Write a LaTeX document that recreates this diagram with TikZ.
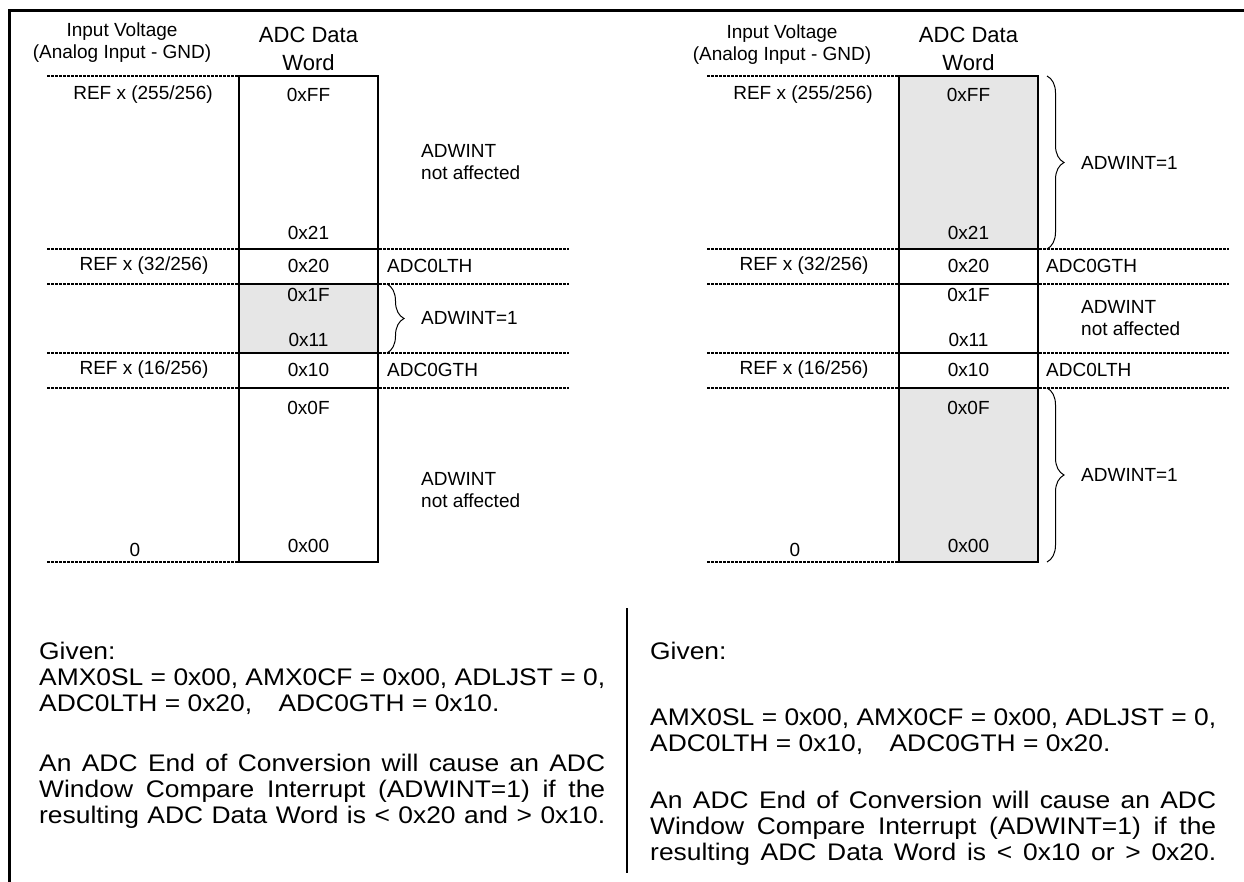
\documentclass[tikz,border=0pt]{standalone}
\usepackage{fontspec}
\setmainfont{Liberation Sans}
\newfontfamily\notefont{Liberation Sans}[FakeStretch=1.1]
\usetikzlibrary{decorations.pathreplacing}
\definecolor{hitgray}{HTML}{E6E6E6}

\begin{document}
\begin{tikzpicture}[
  x=1pt, y=-1pt,
  lbl/.style={font=\fontsize{19}{22}\selectfont, inner sep=0pt, align=center},
  head/.style={lbl, font=\fontsize{22}{28}\selectfont},
  tag/.style={lbl, anchor=west, align=left},
  cell/.style={draw=black, line width=1.6pt},
  hit/.style={fill=hitgray},
  grid/.style={line width=1.4pt, dash pattern=on 3pt off 1pt},
  brc/.style={line width=1pt, decorate, decoration={brace, amplitude=17pt}},
  frame/.style={line width=3pt},
  note/.style={font=\notefont\fontsize{24}{26}\selectfont, inner sep=0pt, anchor=base west},
  full/.style={note, text width=566pt, align=justify,
               execute at begin node={\parfillskip=0pt\relax}}
]
\useasboundingbox (0,0) rectangle (1244,882);

% outer frame and column divider
\draw[frame] (9.5,882) -- (9.5,11) -- (1244,11);
\draw[frame, line width=2pt] (627,608) -- (627,873);

% ---- left: window inside the limits ----
\begin{scope}
  \fill[hit] (239,284) rectangle (378,353);
  \draw[grid] (47,76) -- (239,76);
  \draw[grid] (47,249) -- (569,249);
  \draw[grid] (47,284) -- (569,284);
  \draw[grid] (47,353) -- (569,353);
  \draw[grid] (47,388) -- (569,388);
  \draw[grid] (47,562) -- (239,562);
  \draw[cell] (239,76) rectangle (378,562);
  \draw[cell] (239,249) -- (378,249);
  \draw[cell] (239,284) -- (378,284);
  \draw[cell] (239,353) -- (378,353);
  \draw[cell] (239,388) -- (378,388);
  \draw[brc] (387,284) -- (387,353);

  \node[lbl] (lvin) at (122,43) {Input Voltage\\(Analog Input - GND)};
  \node[head] (lword) at (308.5,49) {ADC Data\\Word};
  \node[lbl] (lref255) at (143,95) {REF x (255/256)};
  \node[lbl] (lff) at (308.5,95) {0xFF};
  \node[lbl] (l21) at (308.5,233) {0x21};
  \node[tag] (lna1) at (421,162) {ADWINT\\not affected};
  \node[lbl] (lref32) at (144,266) {REF x (32/256)};
  \node[lbl] (l20) at (308.5,266) {0x20};
  \node[tag] (llth) at (387,266) {ADC0LTH};
  \node[lbl] (l1f) at (308.5,295) {0x1F};
  \node[lbl] (l11) at (308.5,340) {0x11};
  \node[tag] (lint) at (421,318) {ADWINT=1};
  \node[lbl] (lref16) at (144,370) {REF x (16/256)};
  \node[lbl] (l10) at (308.5,370) {0x10};
  \node[tag] (lgth) at (387,370) {ADC0GTH};
  \node[lbl] (l0f) at (308.5,408) {0x0F};
  \node[tag] (lna2) at (421,490) {ADWINT\\not affected};
  \node[lbl] (lzero) at (135,550) {0};
  \node[lbl] (l00) at (308.5,546) {0x00};
\end{scope}

% ---- right: window outside the limits ----
\begin{scope}[xshift=660pt]
  \fill[hit] (239,76) rectangle (378,249);
  \fill[hit] (239,388) rectangle (378,562);
  \draw[grid] (47,76) -- (239,76);
  \draw[grid] (47,249) -- (569,249);
  \draw[grid] (47,284) -- (569,284);
  \draw[grid] (47,353) -- (569,353);
  \draw[grid] (47,388) -- (569,388);
  \draw[grid] (47,562) -- (239,562);
  \draw[cell] (239,76) rectangle (378,562);
  \draw[cell] (239,249) -- (378,249);
  \draw[cell] (239,284) -- (378,284);
  \draw[cell] (239,353) -- (378,353);
  \draw[cell] (239,388) -- (378,388);
  \draw[brc] (387,76) -- (387,249);
  \draw[brc] (387,388) -- (387,562);

  \node[lbl] (rvin) at (122,45) {Input Voltage\\(Analog Input - GND)};
  \node[head] (rword) at (308.5,49) {ADC Data\\Word};
  \node[lbl] (rref255) at (143,95) {REF x (255/256)};
  \node[lbl] (rff) at (308.5,95) {0xFF};
  \node[tag] (rint1) at (421,163) {ADWINT=1};
  \node[lbl] (r21) at (308.5,233) {0x21};
  \node[lbl] (rref32) at (144,266) {REF x (32/256)};
  \node[lbl] (r20) at (308.5,266) {0x20};
  \node[tag] (rgth) at (386,266) {ADC0GTH};
  \node[lbl] (r1f) at (308.5,295) {0x1F};
  \node[lbl] (r11) at (308.5,340) {0x11};
  \node[tag] (rna) at (421,318) {ADWINT\\not affected};
  \node[lbl] (rref16) at (144,370) {REF x (16/256)};
  \node[lbl] (r10) at (308.5,370) {0x10};
  \node[tag] (rlth) at (386,370) {ADC0LTH};
  \node[lbl] (r0f) at (308.5,408) {0x0F};
  \node[tag] (rint2) at (421,475) {ADWINT=1};
  \node[lbl] (rzero) at (135,550) {0};
  \node[lbl] (r00) at (308.5,546) {0x00};
\end{scope}

% settings and notes below each scale
\node[note] (lgiven) at (39,659) {Given:};
\node[full] (lset1) at (39,685) {AMX0SL = 0x00, AMX0CF = 0x00, ADLJST = 0,};
\node[note] (lset2) at (39,711) {ADC0LTH = 0x20,\hspace{1.1em}ADC0GTH = 0x10.};
\node[full] (lrule1) at (39,771) {An ADC End of Conversion will cause an ADC};
\node[full] (lrule2) at (39,797) {Window Compare Interrupt (ADWINT=1) if the};
\node[full] (lrule3) at (39,823) {resulting ADC Data Word is < 0x20 and > 0x10.};

\node[note] (rgiven) at (650,659) {Given:};
\node[full] (rset1) at (650,725) {AMX0SL = 0x00, AMX0CF = 0x00, ADLJST = 0,};
\node[note] (rset2) at (650,751) {ADC0LTH = 0x10,\hspace{1.1em}ADC0GTH = 0x20.};
\node[full] (rrule1) at (650,808) {An ADC End of Conversion will cause an ADC};
\node[full] (rrule2) at (650,834) {Window Compare Interrupt (ADWINT=1) if the};
\node[full] (rrule3) at (650,860) {resulting ADC Data Word is < 0x10 or > 0x20.};
\end{tikzpicture}
\end{document}
